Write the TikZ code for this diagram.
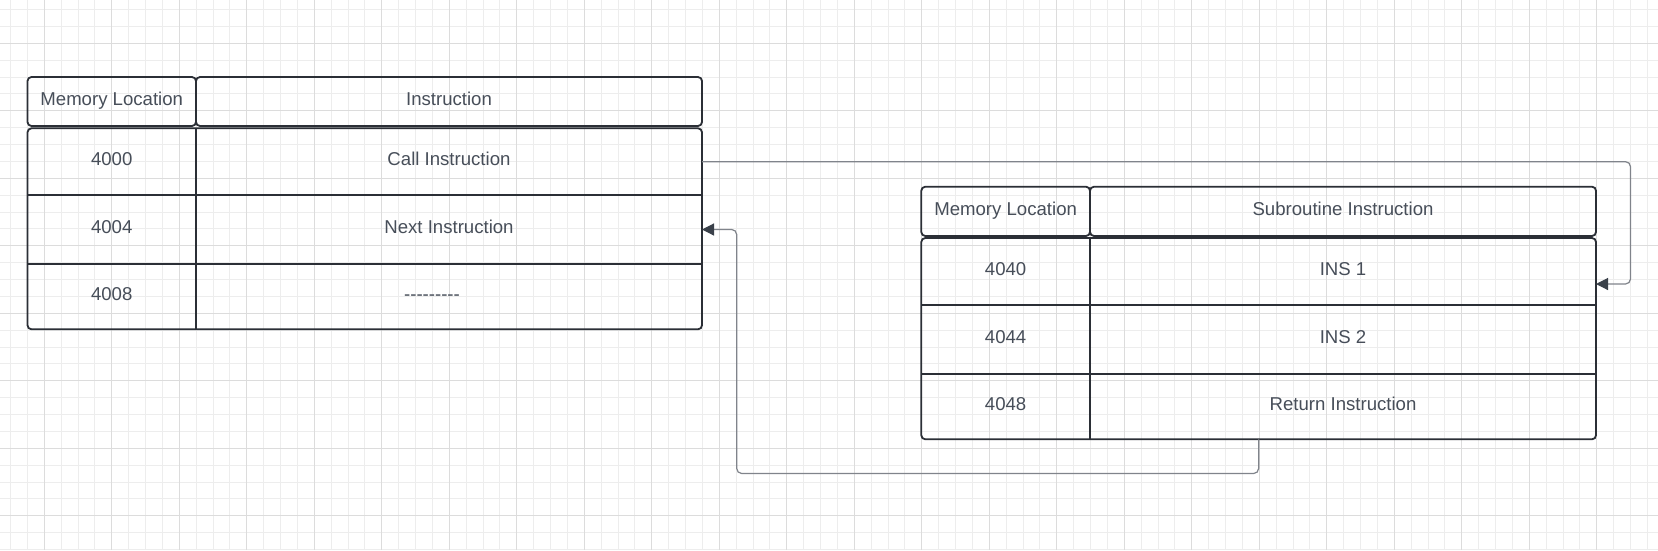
\documentclass[tikz,border=0pt]{standalone}
\usepackage{fontspec}
\usepackage{xcolor}
\usetikzlibrary{arrows.meta}
\usetikzlibrary{calc}
\usetikzlibrary{positioning}
\newfontfamily\chartfont{Liberation Sans}[Ligatures=TeXOff]
\definecolor{chart text}{HTML}{474E59}
\definecolor{chart line}{HTML}{2B2F36}
\definecolor{chart link}{HTML}{80848B}
\definecolor{chart tip}{HTML}{3A414A}
\definecolor{grid minor}{HTML}{EDEDED}
\definecolor{grid major}{HTML}{DCDCDC}

\begin{document}
\begin{tikzpicture}[x=1pt, y=-1pt,
					minor line/.style={draw=grid minor, line width=1pt},
					major line/.style={draw=grid major, line width=1pt},
					cell/.style={inner sep=0pt, outer sep=0pt, text height=13.3pt, text depth=5pt, text=chart text, font=\chartfont\fontsize{18.6}{22}\selectfont},
					mem col/.style={cell, minimum width=168.5pt},
					ins col/.style={cell, minimum width=506pt},
					head cell/.style={draw=chart line, line width=1.8pt, rounded corners=4pt, minimum height=49pt},
					table frame/.style={draw=chart line, line width=1.8pt, rounded corners=4pt},
					cell rule/.style={draw=chart line, line width=1.8pt},
					link/.style={draw=chart link, line width=1.2pt, rounded corners=5pt, -{Triangle[length=12pt, width=12pt, color=chart tip]}},
				]
					% canvas and grid
					\useasboundingbox (0,0) rectangle (1658,550);
					\fill[white] (0,0) rectangle (1658,550);
					\foreach \k in {0,...,97}
						\draw[minor line] ({10.55+16.875*\k},0) -- ({10.55+16.875*\k},550);
					\foreach \k in {0,...,32}
						\draw[minor line] (0,{9.55+16.875*\k}) -- (1658,{9.55+16.875*\k});
					\foreach \k in {0,...,23}
						\draw[major line] ({44.3+67.5*\k},0) -- ({44.3+67.5*\k},550);
					\foreach \k in {0,...,7}
						\draw[major line] (0,{43.3+67.5*\k}) -- (1658,{43.3+67.5*\k});
					
					% main program
					\node[mem col, head cell] (lhMem) at (111.75,101.5) {Memory Location};
					\node[ins col, head cell, right=0pt of lhMem] (lhIns) {Instruction};
					\node[mem col, minimum height=66.7pt, below=2.3pt of lhMem] (lA1) {4000};
					\node[ins col, minimum height=66.7pt, right=0pt of lA1] (lB1) {Call Instruction};
					\node[mem col, minimum height=69pt, below=0pt of lA1] (lA2) {4004};
					\node[ins col, minimum height=69pt, right=0pt of lA2] (lB2) {Next Instruction};
					\node[mem col, minimum height=65.3pt, below=0pt of lA2] (lA3) {4008};
					\node[ins col, minimum height=65.3pt, right=0pt of lA3] (lB3) {---------\hspace*{34pt}};
					\draw[table frame] (lA1.north west) rectangle (lB3.south east);
					\draw[cell rule] (lA1.north east) -- (lA3.south east);
					\draw[cell rule] (lA1.south west) -- (lB1.south east);
					\draw[cell rule] (lA2.south west) -- (lB2.south east);
					
					% subroutine
					\node[mem col, minimum width=168.7pt, head cell, minimum height=49.3pt] (rhMem) at (1005.65,211.35) {Memory Location};
					\node[ins col, head cell, minimum height=49.3pt, right=0pt of rhMem] (rhIns) {Subroutine Instruction};
					\node[mem col, minimum width=168.7pt, minimum height=67pt, below=2pt of rhMem] (rA1) {4040};
					\node[ins col, minimum height=67pt, right=0pt of rA1] (rB1) {INS 1};
					\node[mem col, minimum width=168.7pt, minimum height=68.7pt, below=0pt of rA1] (rA2) {4044};
					\node[ins col, minimum height=68.7pt, right=0pt of rA2] (rB2) {INS 2};
					\node[mem col, minimum width=168.7pt, minimum height=65.6pt, below=0pt of rA2] (rA3) {4048};
					\node[ins col, minimum height=65.6pt, right=0pt of rA3] (rB3) {Return Instruction};
					\draw[table frame] (rA1.north west) rectangle (rB3.south east);
					\draw[cell rule] (rA1.north east) -- (rA3.south east);
					\draw[cell rule] (rA1.south west) -- (rB1.south east);
					\draw[cell rule] (rA2.south west) -- (rB2.south east);
					
					% call and return
					\coordinate (insIn) at ($(rB1.east)+(0,12.5)$);
					\coordinate (retOut) at ($(rA3.south west)!0.5!(rB3.south east)$);
					\draw[link] (lB1.east) -- ++(928.5,0) |- (insIn);
					\draw[link] (retOut) -- ++(0,34.2) -| ($(lB2.east)+(34.7,0)$) -- (lB2.east);
				\end{tikzpicture}
\end{document}
